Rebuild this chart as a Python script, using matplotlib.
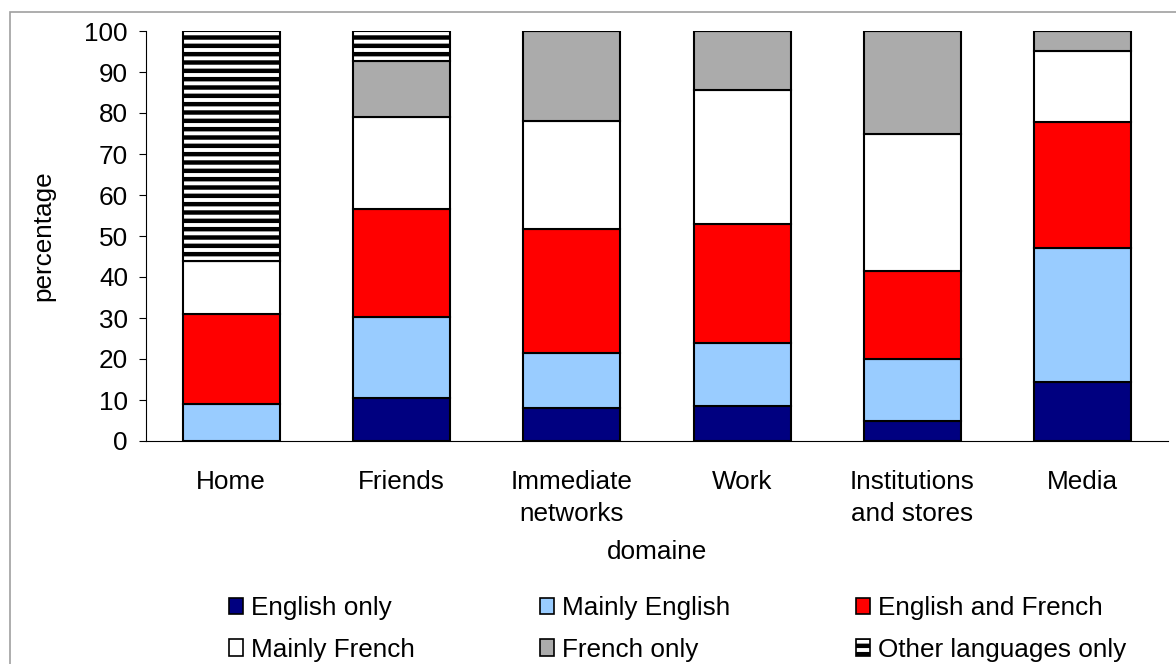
import matplotlib.pyplot as plt
from matplotlib.patches import Rectangle, Patch
import numpy as np

plt.rcParams['font.family'] = ['Liberation Sans', 'DejaVu Sans']
plt.rcParams['hatch.linewidth'] = 3.2

# data (percent of each domain)
domaines = ['Home', 'Friends', 'Immediate\nnetworks', 'Work', 'Institutions\nand stores', 'Media']
english_only = [0, 10.5, 8, 8.5, 5, 14.5]
mainly_english = [9, 19.8, 13.5, 15.4, 15, 32.6]
english_french = [22, 26.2, 30.2, 29, 21.5, 30.7]
mainly_french = [13, 22.5, 26.3, 32.6, 33.5, 17.3]
french_only = [0, 13.8, 22, 14.5, 25, 4.9]
other_only = [56, 7.2, 0, 0, 0, 0]

series = [
    ('English only', english_only, '#000080', None),
    ('Mainly English', mainly_english, '#99ccff', None),
    ('English and French', english_french, '#ff0000', None),
    ('Mainly French', mainly_french, '#ffffff', None),
    ('French only', french_only, '#ababab', None),
    ('Other languages only', other_only, '#ffffff', '--'),
]

fs = 18.8

fig = plt.figure(figsize=(11.76, 6.64), dpi=100)
ax = fig.add_axes([146/1176, 1 - 441/664, (1168 - 146)/1176, (441 - 31)/664])

x = np.arange(len(domaines))
bottom = np.zeros(len(domaines))
handles = []
for name, vals, col, hatch in series:
    vals = np.array(vals, dtype=float)
    ax.bar(x, vals, 0.57, bottom=bottom, color=col, edgecolor='black',
           linewidth=1.5, hatch=hatch)
    bottom += vals
    handles.append(Patch(facecolor=col, edgecolor='black', linewidth=1.2, hatch=hatch))

ax.set_xlim(-0.5, len(domaines) - 0.5)
ax.set_ylim(0, 100)
ax.set_yticks(range(0, 101, 10))
ax.set_xticks(x)
ax.set_xticklabels(domaines, fontsize=fs, linespacing=1.4)
ax.tick_params(axis='x', length=0, pad=21)
ax.tick_params(axis='y', labelsize=fs, length=5, direction='out', pad=8)
ax.spines['top'].set_visible(False)
ax.spines['right'].set_visible(False)
ax.set_ylabel('percentage', fontsize=fs, labelpad=21)
ax.set_xlabel('domaine', fontsize=fs, labelpad=10)

# legend, row-major order in 3 columns
names = [s[0] for s in series]
order = [0, 3, 1, 4, 2, 5]
fig.legend([handles[i] for i in order], [names[i] for i in order], ncol=3,
           loc='center', bbox_to_anchor=(0.576, 0.0527), frameon=False,
           fontsize=fs, handlelength=0.55, handleheight=0.6, handletextpad=0.3,
           columnspacing=4.8, labelspacing=0.68, borderpad=0)

# outer frame
fig.patches.append(Rectangle((10/1176, -0.1), 1.2, 1 - 12/664 + 0.1,
                             transform=fig.transFigure, fill=False,
                             edgecolor='#a0a0a0', linewidth=1.2))

fig.savefig('out.png', dpi=100)
